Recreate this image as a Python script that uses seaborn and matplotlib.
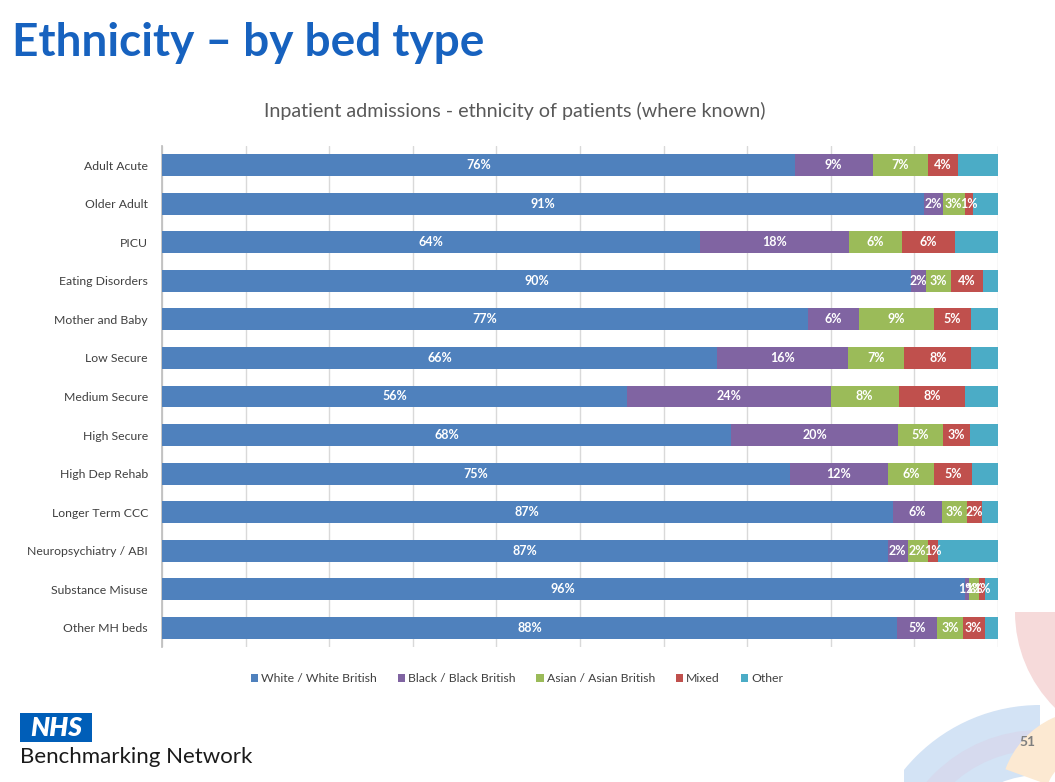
import numpy as np
import pandas as pd
import matplotlib
matplotlib.use("Agg")
import matplotlib.pyplot as plt
import seaborn as sns
from matplotlib.patches import Rectangle, Wedge, Patch

sns.set_theme(style="white")
plt.rcParams['font.family'] = ['Lato', 'DejaVu Sans']

# ---- data (percent of admissions where ethnicity known) ----
categories = ["Adult Acute", "Older Adult", "PICU", "Eating Disorders",
              "Mother and Baby", "Low Secure", "Medium Secure", "High Secure",
              "High Dep Rehab", "Longer Term CCC", "Neuropsychiatry / ABI",
              "Substance Misuse", "Other MH beds"]
white = [75.7, 91.2, 64.4, 89.6, 77.3, 66.4, 55.6, 68.1, 75.1, 87.4, 86.8, 96.0, 87.9]
black = [9.3, 2.2, 17.8, 1.8, 6.1, 15.7, 24.4, 19.9, 11.7, 5.9, 2.4, 0.5, 4.8]
asian = [6.6, 2.6, 6.3, 3.0, 8.9, 6.7, 8.1, 5.4, 5.6, 3.0, 2.4, 1.2, 3.1]
mixed = [3.6, 1.0, 6.3, 3.8, 4.5, 8.0, 8.0, 3.2, 4.5, 1.8, 1.2, 0.8, 2.6]
other = [4.8, 3.0, 5.2, 1.8, 3.2, 3.2, 3.9, 3.4, 3.1, 1.9, 7.2, 1.5, 1.6]

series_names = ["White / White British", "Black / Black British",
                "Asian / Asian British", "Mixed", "Other"]
series_colors = ["#4F81BD", "#8064A2", "#9BBB59", "#C0504D", "#4BACC6"]

df = pd.DataFrame({"bed_type": categories,
                   series_names[0]: white, series_names[1]: black,
                   series_names[2]: asian, series_names[3]: mixed,
                   series_names[4]: other})

# ---- figure / page furniture ----
fig = plt.figure(figsize=(10.55, 7.82), dpi=100)
bg = fig.add_axes([0, 0, 1, 1])
bg.set_xlim(0, 1055)
bg.set_ylim(782, 0)
bg.axis('off')

# faint decorative arcs bottom right
clip = Rectangle((904, 600), 151, 182, transform=bg.transData)
for cx, cy, r, w, t1, t2, col in [(1040, 880, 175, 70, 180, 270, "#D3E3F5"),
                                  (1040, 880, 150, 20, 180, 270, "#D6DAEE"),
                                  (1150, 612, 135, 52, 90, 180, "#F6DADA"),
                                  (1090, 800, 90, 45, 200, 290, "#FCE9D2")]:
    wd = Wedge((cx, cy), r, t1, t2, width=w, facecolor=col, edgecolor='none')
    bg.add_patch(wd)
    wd.set_clip_path(clip)

fig.text(12/1055, 1 - 43/782, "Ethnicity \u2013 by bed type", fontsize=33,
         fontweight='bold', color='#1762BF', va='center', ha='left')
fig.text(515/1055, 1 - 111/782,
         "Inpatient admissions - ethnicity of patients (where known)",
         fontsize=14.2, color='#595959', ha='center', va='center')

bg.add_patch(Rectangle((20, 713), 72, 29, facecolor='#005EB8', edgecolor='none'))
bg.text(56, 728, "NHS", color='white', fontsize=19, fontweight='heavy',
        fontstyle='italic', ha='center', va='center')
bg.text(20, 757, "Benchmarking Network", fontsize=16, color='#1A1A1A',
        ha='left', va='center')
bg.text(1027, 742, "51", fontsize=10, fontweight='bold', color='#7F7F7F',
        ha='center', va='center')

# ---- stacked bar chart ----
ax = fig.add_axes([162/1055, 1 - 647/782, 836/1055, 501/782])
values = df[series_names].to_numpy()
cum = values.cumsum(axis=1)

# draw cumulative totals back to front so each segment shows
for i in range(len(series_names) - 1, -1, -1):
    sns.barplot(x=cum[:, i], y=df["bed_type"], orient='h', color=series_colors[i],
                saturation=1, width=0.57, edgecolor='none', ax=ax, zorder=3)

# data labels (not for "Other")
for i in range(4):
    for j in range(len(categories)):
        v = values[j, i]
        ax.text(cum[j, i] - v / 2, j, f"{int(v + 0.5)}%", ha='center', va='center',
                color='white', fontweight='bold', fontsize=9, zorder=5)

ax.set_xlim(0, 100)
ax.set_ylim(len(categories) - 0.5, -0.5)
ax.set_xticks(np.arange(0, 101, 10))
ax.set_xticklabels([])
ax.set_axisbelow(True)
ax.grid(axis='x', color='#D9D9D9', lw=1)
ax.grid(axis='y', visible=False)
ax.set_xlabel("")
ax.set_ylabel("")
for s in ['top', 'right', 'bottom']:
    ax.spines[s].set_visible(False)
ax.spines['left'].set_color('#BFBFBF')
ax.tick_params(axis='y', length=0, pad=10, labelsize=8.8, labelcolor='#404040')
ax.tick_params(axis='x', length=0)

handles = [Patch(facecolor=c, edgecolor='none') for c in series_colors]
fig.legend(handles, series_names, loc='center', bbox_to_anchor=(517/1055, 1 - 679/782),
           ncol=5, frameon=False, fontsize=8.8, handlelength=0.6, handleheight=0.6,
           handletextpad=0.25, columnspacing=1.7, labelcolor='#404040')

fig.savefig("out.png", dpi=100)
